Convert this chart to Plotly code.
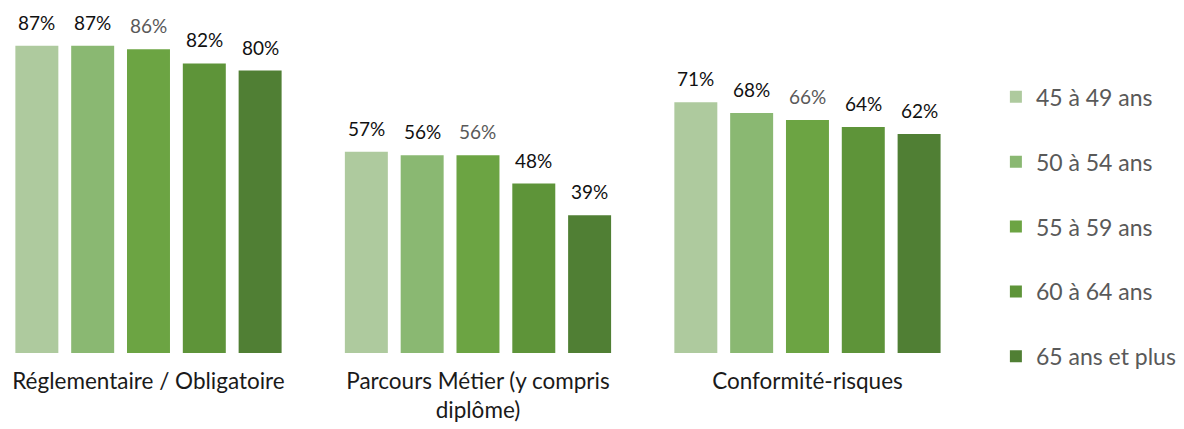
import plotly.graph_objects as go

categories = ["Réglementaire / Obligatoire", "Parcours Métier (y compris<br>diplôme)", "Conformité-risques"]
series_names = ["45 à 49 ans", "50 à 54 ans", "55 à 59 ans", "60 à 64 ans", "65 ans et plus"]
values = {
    "45 à 49 ans": [87, 57, 71],
    "50 à 54 ans": [87, 56, 68],
    "55 à 59 ans": [86, 56, 66],
    "60 à 64 ans": [82, 48, 64],
    "65 ans et plus": [80, 39, 62],
}
colors = ["#AECA9E", "#8AB872", "#6CA443", "#5E9439", "#507F34"]
label_colors = ["#111111", "#111111", "#595959", "#111111", "#111111"]

FONT = "Lato, 'Open Sans', sans-serif"
bargap = 0.153
bargroupgap = 0.23

fig = go.Figure()
for j, name in enumerate(series_names):
    fig.add_trace(go.Bar(
        name=name, x=list(range(len(categories))), y=values[name],
        marker=dict(color=colors[j], line=dict(width=0)),
        legendgroup=name, hoverinfo="skip",
    ))

# data labels via annotations positioned on bar centers
n = len(series_names)
slot = (1 - bargap) / n
annotations = []
for j, name in enumerate(series_names):
    for i, v in enumerate(values[name]):
        xc = i - (1 - bargap) / 2 + slot * (j + 0.5)
        annotations.append(dict(
            x=xc, y=v, xref="x", yref="y", text=f"{v}%", showarrow=False,
            yanchor="bottom", yshift=10,
            font=dict(family=FONT, size=19, color=label_colors[j]),
        ))

fig.update_layout(
    width=1184, height=429,
    margin=dict(l=0, r=202, t=0, b=84),
    paper_bgcolor="white", plot_bgcolor="white",
    barmode="group", bargap=bargap, bargroupgap=bargroupgap,
    font=dict(family=FONT, size=19, color="#262626"),
    xaxis=dict(
        tickmode="array", tickvals=list(range(len(categories))), ticktext=categories,
        range=[-0.4264, 2.554], showgrid=False, showline=False, zeroline=False,
        ticks="", ticklabelstandoff=12,
        tickfont=dict(family=FONT, size=22.5, color="#1a1a1a"),
    ),
    yaxis=dict(range=[0, 97.7], visible=False, showgrid=False, zeroline=False),
    legend=dict(
        x=1.006, xanchor="left", y=0.805, yanchor="top",
        font=dict(family=FONT, size=23, color="#595959"),
        tracegroupgap=32, traceorder="grouped",
    ),
    annotations=annotations,
    showlegend=True,
)

fig.write_html("out.html")
